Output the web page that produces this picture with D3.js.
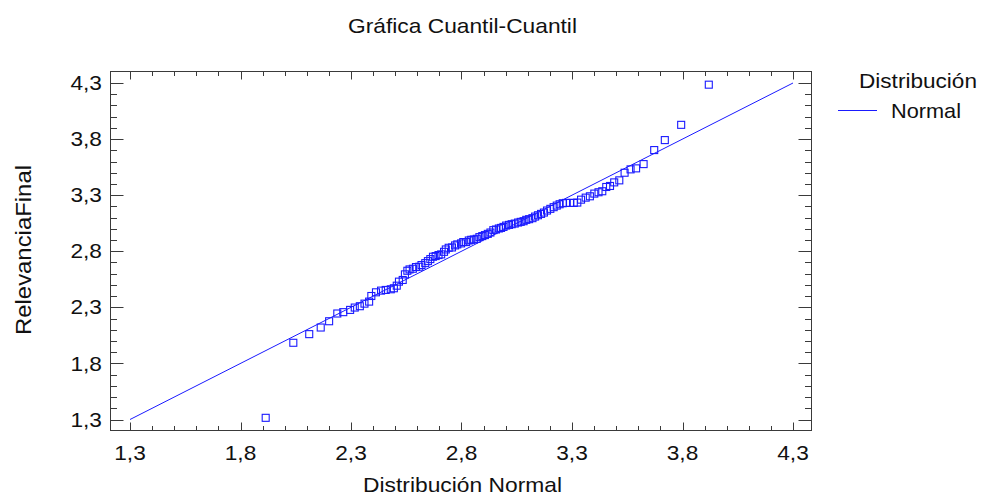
<!DOCTYPE html>
<html>
<head>
<meta charset="utf-8">
<script src="https://cdn.jsdelivr.net/npm/d3@7"></script>
<style>
  html, body { margin: 0; padding: 0; background: #fff; }
  svg { display: block; }
  text { font-family: "Liberation Sans", Arial, sans-serif; fill: #111; }
</style>
</head>
<body>
<svg id="chart" width="986" height="500"></svg>
<script>
// ---- data ----
const normalQuantiles = [
  1.914, 2.039, 2.111, 2.163, 2.201, 2.238, 2.265, 2.296, 2.317, 2.340,
  2.361, 2.382, 2.392, 2.413, 2.436, 2.457, 2.480, 2.494, 2.507, 2.517,
  2.534, 2.544, 2.555, 2.565, 2.580, 2.594, 2.609, 2.619, 2.636, 2.648,
  2.659, 2.671, 2.683, 2.696, 2.708, 2.721, 2.729, 2.742, 2.757, 2.771,
  2.781, 2.798, 2.808, 2.821, 2.833, 2.844, 2.856, 2.869, 2.881, 2.894,
  2.906, 2.919, 2.931, 2.944, 2.956, 2.969, 2.979, 2.990, 3.002, 3.015,
  3.027, 3.041, 3.056, 3.068, 3.081, 3.093, 3.106, 3.121, 3.133, 3.146,
  3.160, 3.173, 3.187, 3.202, 3.217, 3.231, 3.244, 3.258, 3.273, 3.291,
  3.308, 3.324, 3.341, 3.362, 3.381, 3.401, 3.420, 3.437, 3.455, 3.472,
  3.491, 3.514, 3.538, 3.565, 3.590, 3.624, 3.672, 3.720, 3.794, 3.919
];
const relevanciaFinal = [
  1.315, 1.984, 2.061, 2.120, 2.176, 2.245, 2.257, 2.277, 2.298, 2.310,
  2.333, 2.351, 2.401, 2.434, 2.449, 2.455, 2.461, 2.470, 2.493, 2.529,
  2.544, 2.594, 2.626, 2.638, 2.644, 2.659, 2.662, 2.677, 2.694, 2.712,
  2.730, 2.751, 2.757, 2.766, 2.772, 2.795, 2.816, 2.831, 2.834, 2.852,
  2.861, 2.870, 2.882, 2.882, 2.896, 2.902, 2.905, 2.911, 2.926, 2.935,
  2.944, 2.955, 2.967, 2.988, 2.994, 3.003, 3.008, 3.017, 3.029, 3.035,
  3.041, 3.047, 3.056, 3.062, 3.068, 3.080, 3.086, 3.095, 3.109, 3.121,
  3.133, 3.145, 3.163, 3.178, 3.193, 3.207, 3.219, 3.228, 3.231, 3.231,
  3.231, 3.234, 3.260, 3.278, 3.290, 3.314, 3.326, 3.335, 3.373, 3.382,
  3.414, 3.432, 3.500, 3.530, 3.539, 3.577, 3.702, 3.791, 3.927, 4.285
];
const fitLine = [[1.3, 1.3], [4.3, 4.3]];
const xTickValues = [1.3, 1.8, 2.3, 2.8, 3.3, 3.8, 4.3];
const xTickLabels = ["1,3", "1,8", "2,3", "2,8", "3,3", "3,8", "4,3"];
const yTickValues = [1.3, 1.8, 2.3, 2.8, 3.3, 3.8, 4.3];
const yTickLabels = ["1,3", "1,8", "2,3", "2,8", "3,3", "3,8", "4,3"];
const titleText = "Gráfica Cuantil-Cuantil";
const xTitle = "Distribución Normal";
const yTitle = "RelevanciaFinal";
const legendTitle = "Distribución";
const legendItems = ["Normal"];

// ---- drawing ----
const svg = d3.select("#chart");
const blue = "#1a1aff";
const frame = { left: 110.5, right: 811.5, top: 71.5, bottom: 430.5 };

const x = d3.scaleLinear().domain([1.3, 4.3]).range([130, 793]);
const y = d3.scaleLinear().domain([1.3, 4.3]).range([419.5, 83]);

function stretch(sel, factor) {
  sel.each(function () {
    const w = this.getComputedTextLength();
    d3.select(this).attr("textLength", w * factor).attr("lengthAdjust", "spacingAndGlyphs");
  });
}

// frame
svg.append("rect")
  .attr("x", frame.left).attr("y", frame.top)
  .attr("width", frame.right - frame.left).attr("height", frame.bottom - frame.top)
  .attr("fill", "none").attr("stroke", "#3a3a3a").attr("stroke-width", 1);

// ticks (inward on all four sides)
const minorX = d3.range(13, 44).map(v => v / 10);
const minorY = d3.range(13, 44).map(v => v / 10);
const isMajor = v => xTickValues.some(t => Math.abs(t - v) < 1e-6);
const tg = svg.append("g").attr("stroke", "#3a3a3a").attr("stroke-width", 1);
minorX.forEach(v => {
  const px = Math.round(x(v)) + 0.5;
  const len = isMajor(v) ? 8 : 4.5;
  tg.append("line").attr("x1", px).attr("x2", px).attr("y1", frame.bottom).attr("y2", frame.bottom - len);
  tg.append("line").attr("x1", px).attr("x2", px).attr("y1", frame.top).attr("y2", frame.top + len);
});
minorY.forEach(v => {
  const py = Math.round(y(v)) + 0.5;
  const len = isMajor(v) ? 13 : 6.5;
  tg.append("line").attr("y1", py).attr("y2", py).attr("x1", frame.left).attr("x2", frame.left + len);
  tg.append("line").attr("y1", py).attr("y2", py).attr("x1", frame.right).attr("x2", frame.right - len);
});

// tick labels
const xl = svg.append("g").selectAll("text").data(xTickValues).join("text")
  .attr("x", d => x(d)).attr("y", 460).attr("text-anchor", "middle")
  .attr("font-size", 21).text((d, i) => xTickLabels[i]);
stretch(xl, 1.08);
const yl = svg.append("g").selectAll("text").data(yTickValues).join("text")
  .attr("x", 102).attr("y", d => y(d)).attr("dy", "0.34em").attr("text-anchor", "end")
  .attr("font-size", 21).text((d, i) => yTickLabels[i]);
stretch(yl, 1.08);

// fitted line
svg.append("path")
  .attr("d", d3.line().x(d => x(d[0])).y(d => y(d[1]))(fitLine))
  .attr("fill", "none").attr("stroke", blue).attr("stroke-width", 1);

// points
svg.append("g").selectAll("rect").data(normalQuantiles.map((q, i) => [q, relevanciaFinal[i]]))
  .join("rect")
  .attr("x", d => x(d[0]) - 3.5).attr("y", d => y(d[1]) - 3.5)
  .attr("width", 7).attr("height", 7)
  .attr("fill", "none").attr("stroke", blue).attr("stroke-width", 1.1);

// titles
svg.append("text").attr("x", 462.5).attr("y", 33).attr("text-anchor", "middle")
  .attr("font-size", 21).attr("textLength", 229).attr("lengthAdjust", "spacingAndGlyphs").text(titleText);
svg.append("text").attr("x", 462.5).attr("y", 492).attr("text-anchor", "middle")
  .attr("font-size", 21).attr("textLength", 199).attr("lengthAdjust", "spacingAndGlyphs").text(xTitle);
svg.append("text").attr("transform", "translate(31,250) rotate(-90)").attr("text-anchor", "middle")
  .attr("font-size", 22).attr("textLength", 170).attr("lengthAdjust", "spacingAndGlyphs").text(yTitle);

// legend
svg.append("text").attr("x", 859).attr("y", 88).attr("font-size", 21)
  .attr("textLength", 118).attr("lengthAdjust", "spacingAndGlyphs").text(legendTitle);
legendItems.forEach((name, i) => {
  svg.append("line").attr("x1", 838).attr("x2", 877).attr("y1", 110.5 + i * 26).attr("y2", 110.5 + i * 26)
    .attr("stroke", blue).attr("stroke-width", 1);
  svg.append("text").attr("x", 891).attr("y", 117.5 + i * 26).attr("font-size", 21)
    .attr("textLength", 70).attr("lengthAdjust", "spacingAndGlyphs").text(name);
});
</script>
</body>
</html>
